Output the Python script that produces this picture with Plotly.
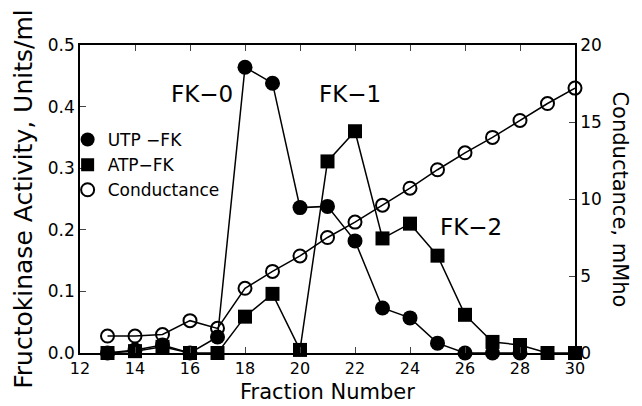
import plotly.graph_objects as go

fractions = [13, 14, 15, 16, 17, 18, 19, 20, 21, 22, 23, 24, 25, 26, 27, 28, 29, 30]
utp_fk = [0.0, 0.005, 0.013, 0.0, 0.026, 0.464, 0.438, 0.236, 0.238, 0.182, 0.073, 0.057, 0.016, 0.0, 0.0, 0.0, None, None]
atp_fk = [0.0, 0.003, 0.01, 0.0, 0.0, 0.059, 0.096, 0.005, 0.311, 0.36, 0.186, 0.21, 0.158, 0.062, 0.018, 0.013, 0.0, 0.0]
conductance = [1.1, 1.1, 1.2, 2.1, 1.6, 4.2, 5.3, 6.3, 7.5, 8.5, 9.6, 10.7, 11.9, 13.0, 14.0, 15.1, 16.2, 17.2]

x_ticks = list(range(12, 31, 2))
peak_labels = [("FK\u22120", 16.45, 0.42), ("FK\u22121", 21.8, 0.42), ("FK\u22122", 26.2, 0.204)]

FONT = "DejaVu Sans"
fig = go.Figure()

fig.add_trace(go.Scatter(
    x=fractions, y=conductance, yaxis="y2", mode="lines+markers",
    line=dict(color="black", width=1.5),
    marker=dict(symbol="circle-open", size=13, color="black", line=dict(width=2)),
    showlegend=False, cliponaxis=False))
fig.add_trace(go.Scatter(
    x=fractions, y=atp_fk, mode="lines+markers",
    line=dict(color="black", width=1.5),
    marker=dict(symbol="square", size=14, color="black"),
    showlegend=False, cliponaxis=False, connectgaps=False))
fig.add_trace(go.Scatter(
    x=fractions, y=utp_fk, mode="lines+markers",
    line=dict(color="black", width=1.5),
    marker=dict(symbol="circle", size=15, color="black"),
    showlegend=False, cliponaxis=False))

# legend-only entries
fig.add_trace(go.Scatter(x=[None], y=[None], mode="markers", name="UTP \u2212FK",
                         marker=dict(symbol="circle", size=14, color="black")))
fig.add_trace(go.Scatter(x=[None], y=[None], mode="markers", name="ATP\u2212FK",
                         marker=dict(symbol="square", size=13, color="black")))
fig.add_trace(go.Scatter(x=[None], y=[None], mode="markers", name="Conductance",
                         marker=dict(symbol="circle-open", size=13, color="black", line=dict(width=2))))

annotations = []
for txt, xv, yv in peak_labels:
    annotations.append(dict(x=xv, y=yv, xref="x", yref="y", text=txt, showarrow=False,
                            font=dict(family=FONT, size=23, color="black"), xanchor="center"))
annotations.append(dict(x=1.09, y=0.5, xref="paper", yref="paper", text="Conductance, mMho",
                        textangle=90, showarrow=False, xanchor="center", yanchor="middle",
                        font=dict(family=FONT, size=21, color="black")))
annotations.append(dict(x=0.5, y=-0.125, xref="paper", yref="paper", text="Fraction Number",
                        showarrow=False, xanchor="center", yanchor="middle",
                        font=dict(family=FONT, size=21, color="black")))

fig.update_layout(
    width=634, height=398,
    margin=dict(l=72, r=67, t=37, b=53),
    paper_bgcolor="white", plot_bgcolor="white",
    font=dict(family=FONT, color="black"),
    xaxis=dict(range=[12, 30], tickvals=x_ticks, ticks="inside", ticklen=6, tickwidth=1.3,
               showline=True, linecolor="black", linewidth=1.5, mirror="ticks", showgrid=False,
               zeroline=False, tickfont=dict(size=16), automargin=False, ticklabelstandoff=0),
    yaxis=dict(range=[0, 0.5], dtick=0.1, tickformat=".1f", ticks="inside", ticklen=6, tickwidth=1.3,
               showline=True, linecolor="black", linewidth=1.5, showgrid=False, zeroline=False,
               tickfont=dict(size=17), automargin=False,
               title=dict(text="Fructokinase Activity, Units/ml", font=dict(size=25), standoff=8)),
    yaxis2=dict(range=[0, 20], dtick=5, overlaying="y", side="right", ticks="inside", ticklen=6,
                tickwidth=1.3, showline=True, linecolor="black", linewidth=1.5, showgrid=False,
                zeroline=False, tickfont=dict(size=17), automargin=False),
    legend=dict(x=-0.025, y=0.75, xanchor="left", yanchor="top", bgcolor="rgba(0,0,0,0)",
                font=dict(size=17), tracegroupgap=0, itemwidth=30),
    annotations=annotations,
)

fig.write_html("out.html")
